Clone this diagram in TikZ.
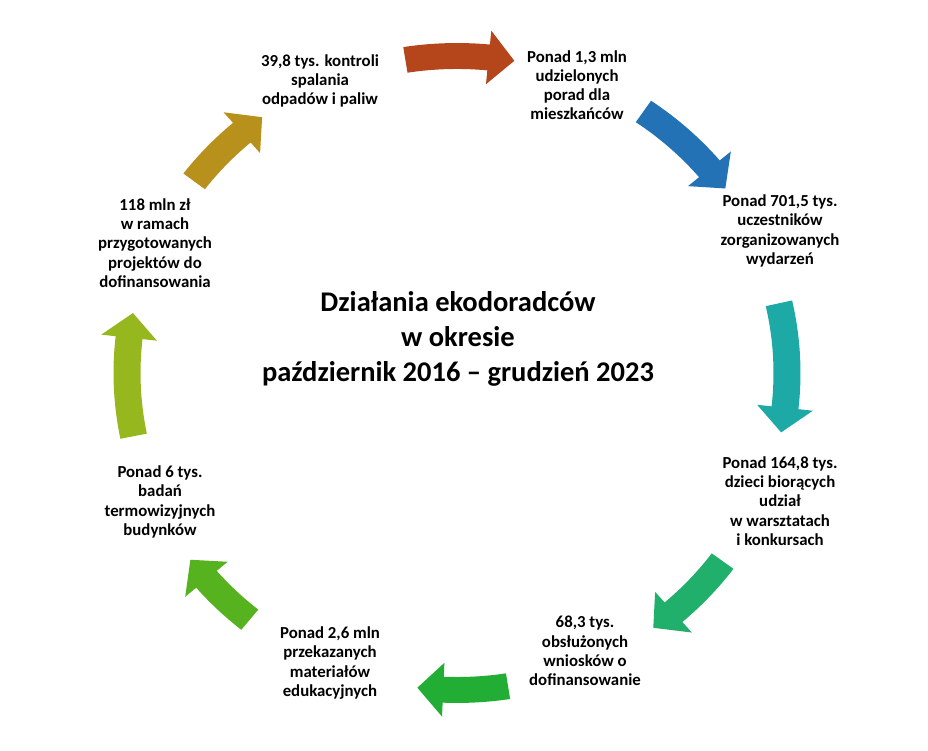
\documentclass[tikz,border=0pt]{standalone}
\usepackage{fontspec}
\setmainfont{Carlito}
\definecolor{cA}{HTML}{B5461B}
\definecolor{cB}{HTML}{2272B5}
\definecolor{cC}{HTML}{1DAAA6}
\definecolor{cD}{HTML}{20B06B}
\definecolor{cE}{HTML}{22AE34}
\definecolor{cF}{HTML}{57B21F}
\definecolor{cG}{HTML}{97B71E}
\definecolor{cH}{HTML}{B8911D}
\tikzset{
  lbl/.style={font=\bfseries\fontsize{16.8}{19.2}\selectfont, align=center, text=black, inner sep=0pt},
  ttl/.style={font=\bfseries\fontsize{28.5}{35}\selectfont, align=center, text=black, inner sep=0pt}
}
\newcommand\cirarrow[3]{%
  \fill[#1] (#2:343.5) arc[start angle=#2, end angle={#3+4.5}, radius=343.5]
    -- ({#3+4.5}:358) -- (#3:330) -- ({#3+4.5}:302) -- ({#3+4.5}:316.5)
    arc[start angle={#3+4.5}, end angle=#2, radius=316.5] -- cycle;}
\begin{document}
\begin{tikzpicture}[x=1pt,y=1pt]
\useasboundingbox (0,0) rectangle (928,751);
\fill[white] (0,0) rectangle (928,751);
\begin{scope}[shift={(457,378)}, yscale=0.9606]
  \cirarrow{cA}{99}{80}
  \cirarrow{cB}{55.6}{35.6}
  \cirarrow{cC}{12.7}{-10.8}
  \cirarrow{cD}{-36.4}{-53.5}
  \cirarrow{cE}{-81.1}{-96.9}
  \cirarrow{cF}{-128.9}{-143.9}
  \cirarrow{cG}{-168.5}{-190.9}
  \cirarrow{cH}{142.8}{126.2}
\end{scope}
\node[lbl] (t1) at (320,670) {39,8 tys. kontroli\\spalania\\odpadów i paliw};
\node[lbl] (t2) at (577,666) {Ponad 1,3 mln\\udzielonych\\porad dla\\mieszkańców};
\node[lbl] (t3) at (780,520) {Ponad 701,5 tys.\\uczestników\\zorganizowanych\\wydarzeń};
\node[lbl] (t4) at (780,250) {Ponad 164,8 tys.\\dzieci biorących\\udział\\w warsztatach\\i konkursach};
\node[lbl] (t5) at (585,100) {68,3 tys.\\obsłużonych\\wniosków o\\dofinansowanie};
\node[lbl] (t6) at (330,88) {Ponad 2,6 mln\\przekazanych\\materiałów\\edukacyjnych};
\node[lbl] (t7) at (160,249) {Ponad 6 tys.\\badań\\termowizyjnych\\budynków};
\node[lbl] (t8) at (155,508) {118 mln zł\\w ramach\\przygotowanych\\projektów do\\dofinansowania};
\node[ttl] (title) at (458,412) {Działania ekodoradców\\w okresie\\październik 2016 – grudzień 2023};
\end{tikzpicture}
\end{document}
